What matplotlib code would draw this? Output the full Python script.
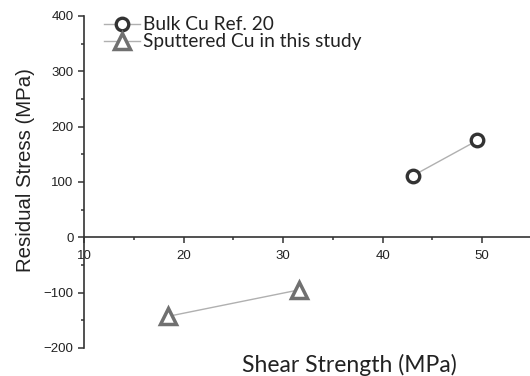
import matplotlib
matplotlib.use("Agg")
import matplotlib.pyplot as plt
from matplotlib.ticker import MultipleLocator

# data
bulk_x = [43.0, 49.5]
bulk_y = [111, 175]
sput_x = [18.4, 31.6]
sput_y = [-143, -95]
labels = ["Bulk Cu Ref. 20", "Sputtered Cu in this study"]

fig = plt.figure(figsize=(5.3, 3.76), dpi=100)
ax = fig.add_axes([0.1585, 0.0745, 0.8415, 0.883])

ax.plot(bulk_x, bulk_y, color="#b0b0b0", lw=1, marker="o", ms=9,
        mfc="white", mec="#333333", mew=2.4, label=labels[0])
ax.plot(sput_x, sput_y, color="#b0b0b0", lw=1, marker="^", ms=11,
        mfc="white", mec="#707070", mew=2.5, label=labels[1])

ax.set_xlim(10, 54.8)
ax.set_ylim(-200, 400)

# axes look: left spine plus x axis crossing at zero
for s in ["top", "right"]:
    ax.spines[s].set_visible(False)
ax.spines["bottom"].set_position(("data", 0))
for s in ["left", "bottom"]:
    ax.spines[s].set_color("#333333")
    ax.spines[s].set_linewidth(1.2)

ax.xaxis.set_major_locator(MultipleLocator(10))
ax.xaxis.set_minor_locator(MultipleLocator(5))
ax.yaxis.set_major_locator(MultipleLocator(100))
ax.yaxis.set_minor_locator(MultipleLocator(50))
ax.tick_params(which="major", direction="out", length=4, width=1.1,
               color="#333333", labelsize=9.5, labelcolor="#222222")
ax.tick_params(which="minor", direction="out", length=2.5, width=1.1, color="#333333")
ax.tick_params(axis="x", which="major", pad=5)
for t in ax.get_xticklabels() + ax.get_yticklabels():
    t.set_family("Liberation Sans")

fig.text(0.659, 0.03, "Shear Strength (MPa)", family="Lato", fontsize=16.5,
         ha="center", va="center", color="#222222")
fig.text(0.049, 0.5465, "Residual Stress (MPa)", family="Liberation Sans", fontsize=14.7,
         rotation=90, ha="center", va="center", color="#222222")

leg = ax.legend(loc="upper left", bbox_to_anchor=(0.178, 0.982),
                bbox_transform=fig.transFigure, frameon=False, borderpad=0,
                handlelength=1.9, handletextpad=0.15, labelspacing=0.0,
                prop={"family": "Lato", "size": 13.8})
for t in leg.get_texts():
    t.set_color("#222222")

fig.savefig("out.png", dpi=100)
